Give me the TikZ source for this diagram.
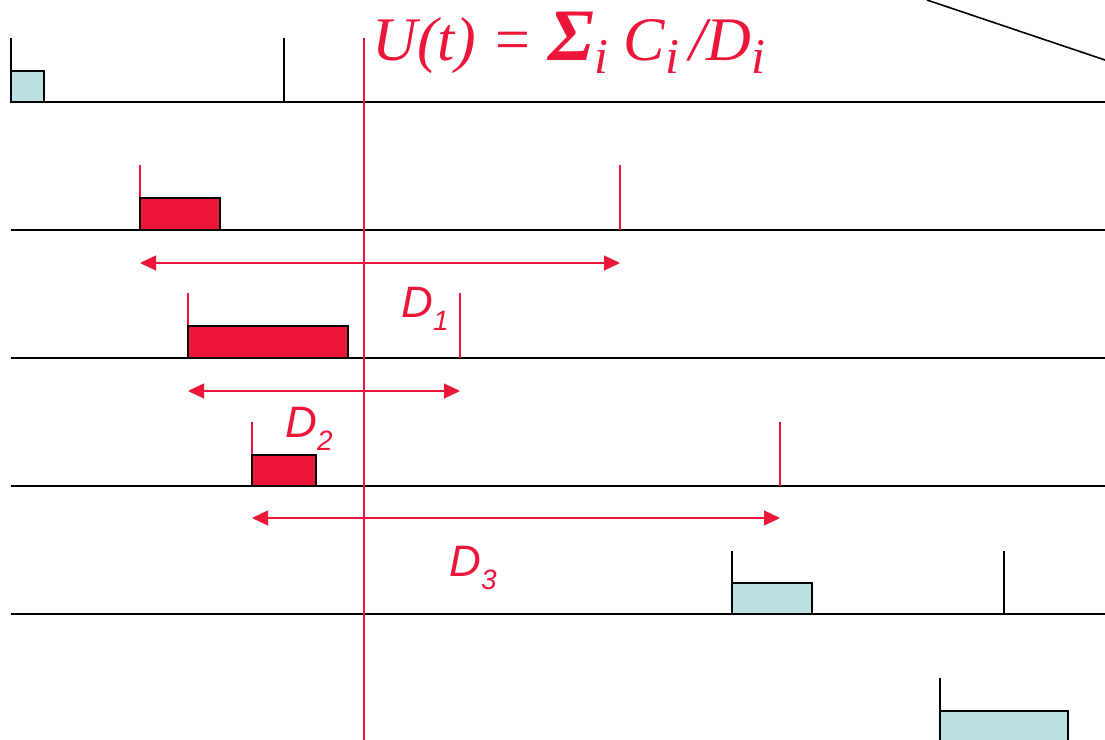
\documentclass[tikz,border=0pt]{standalone}
\usepackage{fontspec}
\setmainfont{Liberation Serif}
\newfontfamily\arialfont{Liberation Sans}
\usetikzlibrary{arrows.meta}
\definecolor{jobred}{RGB}{236,22,58}
\definecolor{jobcyan}{RGB}{187,224,227}
\tikzset{
	timeline/.style={line width=1pt, black},
	rlsblack/.style={line width=1pt, black},
	rlsred/.style={line width=0.6pt, jobred},
	cyanjob/.style={draw=black, fill=jobcyan, line width=1pt},
	redjob/.style={draw=black, fill=jobred, line width=1pt},
	deadarr/.style={{Triangle[length=8pt,width=7.5pt]}-{Triangle[length=8pt,width=7.5pt]}, jobred, line width=0.6pt},
	dlabel/.style={font=\arialfont\itshape\fontsize{22}{24}\selectfont, text=jobred, inner sep=0pt, anchor=base west},
	formula/.style={font=\itshape\fontsize{31}{34}\selectfont, text=jobred, inner sep=0pt, anchor=base west}
}
\newcommand{\dsub}[1]{\raisebox{-6.5pt}{\fontsize{14}{15}\selectfont #1}}
\newcommand{\fsub}[1]{\raisebox{-6.5pt}{\fontsize{25}{27}\selectfont #1}}

\begin{document}
\begin{tikzpicture}[x=0.5pt, y=-0.5pt]
	\useasboundingbox (0,0) rectangle (1105,740);
	\foreach \y in {102,230,358,486,614}
		\draw[timeline] (11,\y) -- (1105,\y);
	\draw[line width=0.8pt] (927,0) -- (1105,60);
	% first row
	\draw[rlsblack] (11,38) -- (11,102);
	\draw[cyanjob] (11,71) rectangle (44,102);
	\draw[rlsblack] (284,38) -- (284,102);
	% the three active jobs
	\draw[rlsred] (140,165) -- (140,230);
	\draw[redjob] (140,198) rectangle (220,230);
	\draw[rlsred] (620,165) -- (620,230);
	\draw[rlsred] (188,293) -- (188,358);
	\draw[redjob] (188,326) rectangle (348,358);
	\draw[rlsred] (460,293) -- (460,358);
	\draw[rlsred] (252,422) -- (252,486);
	\draw[redjob] (252,455) rectangle (316,486);
	\draw[rlsred] (780,422) -- (780,486);
	\coordinate (s1) at (140,263);
	\coordinate (e1) at (620,263);
	\coordinate (s2) at (188,391);
	\coordinate (e2) at (460,391);
	\coordinate (s3) at (252,518);
	\coordinate (e3) at (780,518);
	\draw[deadarr] (s1) -- (e1);
	\draw[deadarr] (s2) -- (e2);
	\draw[deadarr] (s3) -- (e3);
	\node[dlabel] (dl1) at (401,317) {D\dsub{1}};
	\node[dlabel] (dl2) at (285,437) {D\dsub{2}};
	\node[dlabel] (dl3) at (449,576) {D\dsub{3}};
	% later jobs
	\draw[rlsblack] (732,551) -- (732,614);
	\draw[cyanjob] (732,583) rectangle (812,614);
	\draw[rlsblack] (1004,551) -- (1004,614);
	\draw[rlsblack] (940,678) -- (940,740);
	\draw[cyanjob] (940,711) rectangle (1068,745);
	% time instant t
	\draw[rlsred] (364,38) -- (364,740);
	\node[formula] (ut) at (372,60) {U(t) = {\fontsize{37}{38}\selectfont\bfseries Σ}\fsub{i} C\fsub{i}\,/D\fsub{i}};
\end{tikzpicture}
\end{document}
